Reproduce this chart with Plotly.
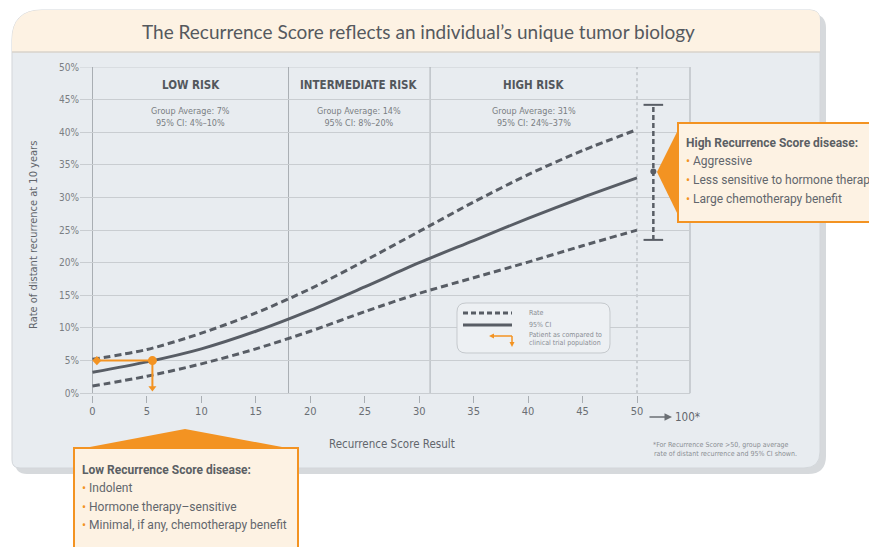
import plotly.graph_objects as go

# ---------------- data ----------------
scores = [0, 5, 10, 15, 20, 25, 30, 35, 40, 45, 50]
rate = [3.2, 4.8, 6.8, 9.5, 12.7, 16.3, 20.0, 23.4, 26.8, 30.0, 33.0]
upper_ci = [5.2, 6.7, 9.2, 12.3, 16.0, 20.3, 24.8, 29.3, 33.5, 37.2, 40.4]
lower_ci = [1.1, 2.6, 4.5, 6.8, 9.5, 12.5, 15.3, 17.7, 20.1, 22.6, 25.0]

x_ticks = [0, 5, 10, 15, 20, 25, 30, 35, 40, 45, 50]
x_ticktext = ["0", "5", "10", "15", "20", "25", "30", "35", "40", "45", "50"]
y_ticks = [0, 5, 10, 15, 20, 25, 30, 35, 40, 45, 50]
y_ticktext = ["0%", "5%", "10%", "15%", "20%", "25%", "30%", "35%", "40%", "45%", "50%"]

risk_cutoffs = [0, 18, 31]
risk_labels = ["LOW RISK", "INTERMEDIATE RISK", "HIGH RISK"]
risk_centers = [9, 24.5, 40.5]
risk_stats = ["Group Average: 7%<br>95% CI: 4%–10%",
              "Group Average: 14%<br>95% CI: 8%–20%",
              "Group Average: 31%<br>95% CI: 24%–37%"]

patient_score = 5.5
patient_rate = 5.0
patient_axis_start = 0.4
patient_axis_floor = 0.8

gt50_position = 51.5
gt50_mean = 34.0
gt50_low = 23.5
gt50_high = 44.2

# ---------------- styling ----------------
OFF = 8                      # page body margin
W, H = 877 - OFF, 547 - OFF
L, R, T, B = 80, 690, 67, 403   # plot area in page pixels
PX_PER_UNIT = 10.89
X_ZERO_PX = 92.5
XMIN = 0 - (X_ZERO_PX - L) / PX_PER_UNIT
XMAX = 50 + (R - (X_ZERO_PX + 50 * PX_PER_UNIT)) / PX_PER_UNIT
YMIN, YMAX = -1.5, 50

DARK = "#585d65"
ORANGE = "#f39322"
CREAM = "#fdf2e3"
CARD = "#e8ecf0"
TXT = "#62666c"
GRID = "#c9cdd1"
VLINE = "#a9aeb3"
FONT = "DejaVu Sans Condensed, Liberation Sans Narrow, Roboto, sans-serif"
FONT2 = "Roboto, Liberation Sans, Arial, sans-serif"


def px(x):
    return (x - L) / (R - L)


def py(y):
    return (B - y) / (B - T)


def rpath(x0, y0, x1, y1, tl, tr, br, bl):
    def P(x, y):
        return f"{px(x):.5f},{py(y):.5f}"
    s = f"M {P(x0 + tl, y0)} L {P(x1 - tr, y0)} Q {P(x1, y0)} {P(x1, y0 + tr)} "
    s += f"L {P(x1, y1 - br)} Q {P(x1, y1)} {P(x1 - br, y1)} "
    s += f"L {P(x0 + bl, y1)} Q {P(x0, y1)} {P(x0, y1 - bl)} "
    s += f"L {P(x0, y0 + tl)} Q {P(x0, y0)} {P(x0 + tl, y0)} Z"
    return s


def poly(points):
    return "M " + " L ".join(f"{px(a):.5f},{py(b):.5f}" for a, b in points) + " Z"


fig = go.Figure()

# CI curves and rate
for ci in (upper_ci, lower_ci):
    fig.add_trace(go.Scatter(x=scores, y=ci, mode="lines",
                             line=dict(color=DARK, width=3, dash="7px,4px", shape="spline", smoothing=0.8),
                             hoverinfo="skip", showlegend=False))
fig.add_trace(go.Scatter(x=scores, y=rate, mode="lines",
                         line=dict(color=DARK, width=3, shape="spline", smoothing=0.8),
                         hoverinfo="skip", showlegend=False))

# Patient marker
fig.add_trace(go.Scatter(x=[patient_axis_start, patient_score], y=[patient_rate, patient_rate], mode="lines",
                         line=dict(color=ORANGE, width=2), showlegend=False, hoverinfo="skip"))
fig.add_trace(go.Scatter(x=[patient_score, patient_score], y=[patient_rate, patient_axis_floor], mode="lines",
                         line=dict(color=ORANGE, width=2), showlegend=False, hoverinfo="skip"))
fig.add_trace(go.Scatter(x=[patient_axis_start], y=[patient_rate], mode="markers",
                         marker=dict(symbol="diamond", size=7, color=ORANGE), showlegend=False, hoverinfo="skip"))
fig.add_trace(go.Scatter(x=[patient_score], y=[patient_axis_floor], mode="markers",
                         marker=dict(symbol="triangle-down", size=7, color=ORANGE), showlegend=False, hoverinfo="skip"))
fig.add_trace(go.Scatter(x=[patient_score], y=[patient_rate], mode="markers",
                         marker=dict(symbol="circle", size=9, color=ORANGE), showlegend=False, hoverinfo="skip"))

# >50 group average with CI
fig.add_trace(go.Scatter(x=[gt50_position, gt50_position], y=[gt50_low, gt50_high], mode="lines",
                         line=dict(color=DARK, width=2.5, dash="5px,3px"), showlegend=False, hoverinfo="skip"))
fig.add_trace(go.Scatter(x=[gt50_position, gt50_position], y=[gt50_low, gt50_high], mode="markers",
                         marker=dict(symbol="line-ew", size=14, line=dict(color=DARK, width=2)),
                         showlegend=False, hoverinfo="skip"))
fig.add_trace(go.Scatter(x=[gt50_position], y=[gt50_mean], mode="markers",
                         marker=dict(symbol="circle", size=6, color=DARK), showlegend=False, hoverinfo="skip"))

shapes = []
# card shadow + card + header
shapes.append(dict(type="path", xref="paper", yref="paper", layer="below", path=rpath(15, 14, 826, 474, 30, 14, 18, 12),
                   fillcolor="#d6d9dc", line=dict(width=0)))
shapes.append(dict(type="path", xref="paper", yref="paper", layer="below", path=rpath(12, 10, 820, 468, 30, 10, 16, 8),
                   fillcolor=CARD, line=dict(color="#d3d7db", width=1)))
shapes.append(dict(type="path", xref="paper", yref="paper", layer="below", path=rpath(12, 10, 820, 52, 30, 10, 0, 0),
                   fillcolor=CREAM, line=dict(width=0)))
shapes.append(dict(type="line", xref="paper", yref="paper", layer="below", x0=px(12), x1=px(820), y0=py(52), y1=py(52),
                   line=dict(color="#d8d3cb", width=1.5)))

# plot box verticals
for c in risk_cutoffs:
    shapes.append(dict(type="line", xref="x", yref="y", x0=c, x1=c, y0=0, y1=50, line=dict(color=VLINE, width=1), layer="below"))
shapes.append(dict(type="line", xref="x", yref="y", x0=50, x1=50, y0=0, y1=50, line=dict(color=VLINE, width=1, dash="3px,3px"), layer="below"))
shapes.append(dict(type="line", xref="paper", yref="y", x0=1, x1=1, y0=0, y1=50, line=dict(color=VLINE, width=1), layer="below"))
shapes.append(dict(type="line", xref="paper", yref="y", x0=0, x1=1, y0=50, y1=50, line=dict(color=GRID, width=1), layer="below"))

# legend box
shapes.append(dict(type="path", xref="paper", yref="paper", path=rpath(457, 303, 610, 353, 9, 9, 9, 9),
                   fillcolor="#edf0f3", line=dict(color="#c5c9cd", width=1)))
shapes.append(dict(type="line", xref="paper", yref="paper", x0=px(463), x1=px(512), y0=py(313), y1=py(313),
                   line=dict(color=DARK, width=3, dash="5px,3px")))
shapes.append(dict(type="line", xref="paper", yref="paper", x0=px(463), x1=px(512), y0=py(325), y1=py(325),
                   line=dict(color=DARK, width=3)))
shapes.append(dict(type="line", xref="paper", yref="paper", x0=px(492), x1=px(512), y0=py(336), y1=py(336),
                   line=dict(color=ORANGE, width=1.5)))
shapes.append(dict(type="line", xref="paper", yref="paper", x0=px(512), x1=px(512), y0=py(336), y1=py(344),
                   line=dict(color=ORANGE, width=1.5)))
shapes.append(dict(type="path", xref="paper", yref="paper", path=poly([(489, 336), (494, 333.5), (494, 338.5)]),
                   fillcolor=ORANGE, line=dict(width=0)))
shapes.append(dict(type="path", xref="paper", yref="paper", path=poly([(512, 347), (509.5, 342), (514.5, 342)]),
                   fillcolor=ORANGE, line=dict(width=0)))

# high callout
shapes.append(dict(type="path", xref="paper", yref="paper", path=poly([(680, 126), (657, 172), (680, 219)]),
                   fillcolor=ORANGE, line=dict(width=0)))
shapes.append(dict(type="rect", xref="paper", yref="paper", x0=px(678), x1=px(884), y0=py(123), y1=py(222),
                   fillcolor=CREAM, line=dict(color=ORANGE, width=2)))
# low callout
shapes.append(dict(type="path", xref="paper", yref="paper", path=poly([(74, 450), (185, 429), (298, 450)]),
                   fillcolor=ORANGE, line=dict(width=0)))
shapes.append(dict(type="rect", xref="paper", yref="paper", x0=px(74), x1=px(298), y0=py(448), y1=py(552),
                   fillcolor=CREAM, line=dict(color=ORANGE, width=2)))

ann = []


def A(x, y, text, size=10, color=TXT, xanchor="center", font=FONT, **kw):
    ann.append(dict(xref="paper", yref="paper", x=px(x), y=py(y), text=text, showarrow=False,
                    xanchor=xanchor, yanchor="middle", font=dict(family=font, size=size, color=color), **kw))


A(418, 32, "The Recurrence Score reflects an individual’s unique tumor biology", size=19, color="#55595e",
  font="Lato, Liberation Sans, sans-serif")

for lab, cx, st in zip(risk_labels, risk_centers, risk_stats):
    ann.append(dict(xref="x", yref="paper", x=cx, y=py(85), text="<b>" + lab + "</b>", showarrow=False, yanchor="middle",
                    font=dict(family=FONT, size=11.5, color="#53575c")))
    ann.append(dict(xref="x", yref="paper", x=cx, y=py(117), text=st, showarrow=False, yanchor="middle",
                    font=dict(family=FONT, size=9, color="#7a7e83")))

A(33, 235, "Rate of distant recurrence at 10 years", size=11, color=TXT, textangle=-90)
A(392, 444, "Recurrence Score Result", size=11.5, color=TXT)

# 50 -> 100*
ann.append(dict(xref="paper", yref="paper", x=px(672), y=py(417), ax=-24, ay=0, text="", showarrow=True,
                arrowhead=2, arrowsize=1, arrowwidth=1.5, arrowcolor="#6b6f74"))
A(673, 417, "100*", size=11.5, color=TXT, xanchor="left")
A(721, 445, "*For Recurrence Score >50, group average", size=7, color="#8a8e93")
A(725, 454, "rate of distant recurrence and 95% CI shown.", size=7, color="#8a8e93")

# legend text
A(527, 313, "Rate", size=7, color="#8a8e93", xanchor="left")
A(527, 325, "95% CI", size=7, color="#8a8e93", xanchor="left")
A(527, 335, "Patient as compared to", size=7, color="#8a8e93", xanchor="left")
A(527, 343, "clinical trial population", size=7, color="#8a8e93", xanchor="left")

# callout texts
bul = f"<span style='color:{ORANGE}'>•</span> "
A(684, 143, "<b>High Recurrence Score disease:</b>", size=12, color="#5b5f64", xanchor="left", font=FONT2)
A(684, 161, bul + "Aggressive", size=12, color=TXT, xanchor="left", font=FONT2)
A(684, 180, bul + "Less sensitive to hormone therapy", size=12, color=TXT, xanchor="left", font=FONT2)
A(684, 199, bul + "Large chemotherapy benefit", size=12, color=TXT, xanchor="left", font=FONT2)

A(80, 470, "<b>Low Recurrence Score disease:</b>", size=12, color="#5b5f64", xanchor="left", font=FONT2)
A(80, 488, bul + "Indolent", size=12, color=TXT, xanchor="left", font=FONT2)
A(80, 507, bul + "Hormone therapy–sensitive", size=12, color=TXT, xanchor="left", font=FONT2)
A(80, 525, bul + "Minimal, if any, chemotherapy benefit", size=12, color=TXT, xanchor="left", font=FONT2)

fig.update_layout(
    width=W, height=H,
    margin=dict(l=L - OFF, r=W - (R - OFF), t=T - OFF, b=H - (B - OFF), pad=0),
    paper_bgcolor="white", plot_bgcolor="rgba(0,0,0,0)",
    shapes=shapes, annotations=ann, showlegend=False,
    xaxis=dict(range=[XMIN, XMAX], tickvals=x_ticks, ticktext=x_ticktext, showgrid=False, zeroline=False,
               showline=False, ticks="inside", ticklen=7, tickcolor=VLINE,
               tickfont=dict(family=FONT, size=11, color="#6b6f74")),
    yaxis=dict(range=[YMIN, YMAX], tickvals=y_ticks, ticktext=y_ticktext, showgrid=True, gridcolor=GRID,
               gridwidth=1, zeroline=False, showline=False, ticks="",
               tickfont=dict(family=FONT, size=10, color="#7a7e83")),
)

fig.write_html("out.html")
